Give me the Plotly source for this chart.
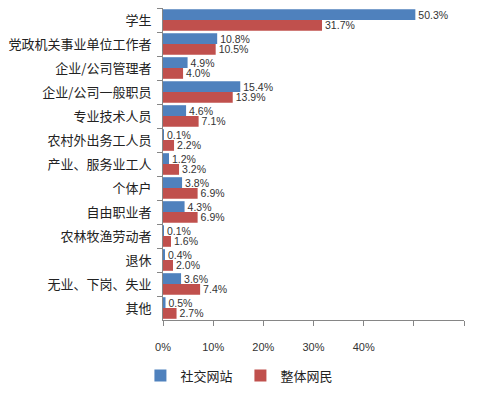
import plotly.graph_objects as go

categories = ["学生", "党政机关事业单位工作者", "企业/公司管理者", "企业/公司一般职员", "专业技术人员",
              "农村外出务工人员", "产业、服务业工人", "个体户", "自由职业者", "农林牧渔劳动者",
              "退休", "无业、下岗、失业", "其他"]
sns_values = [50.3, 10.8, 4.9, 15.4, 4.6, 0.1, 1.2, 3.8, 4.3, 0.1, 0.4, 3.6, 0.5]
all_values = [31.7, 10.5, 4.0, 13.9, 7.1, 2.2, 3.2, 6.9, 6.9, 1.6, 2.0, 7.4, 2.7]
series_names = ["社交网站", "整体网民"]
tick_vals = [0, 10, 20, 30, 40, 50, 60]
tick_text = ["0%", "10%", "20%", "30%", "40%", "", ""]

colors = ["#4F81BD", "#C0504D"]
fnt = "Noto Sans CJK SC, Liberation Sans, sans-serif"

fig = go.Figure()
for name, vals, c in zip(series_names, [sns_values, all_values], colors):
    fig.add_trace(go.Bar(
        y=categories, x=vals, name=name, orientation="h",
        marker=dict(color=c, line=dict(width=0)),
        text=[f"{v:.1f}%" for v in vals], textposition="outside",
        constraintext="none",
        textfont=dict(family="Liberation Sans, Arial, sans-serif", size=10.5, color="#333333"),
        cliponaxis=False,
    ))

fig.update_layout(
    width=484, height=398,
    margin=dict(l=160, r=20, t=8, b=70),
    paper_bgcolor="white", plot_bgcolor="white",
    barmode="group", bargap=0.1, bargroupgap=0,
    font=dict(family=fnt, size=13, color="#222222"),
    showlegend=True,
    legend=dict(orientation="h", x=-0.075, xanchor="left", y=-0.13, yanchor="top",
                font=dict(family=fnt, size=13, color="#222222"),
                itemwidth=30, entrywidth=55, traceorder="normal"),
    xaxis=dict(range=[0, 60], tickvals=tick_vals, ticktext=tick_text,
               showgrid=False, zeroline=False,
               showline=True, linecolor="#868686", linewidth=1,
               ticks="outside", ticklen=5, tickcolor="#868686", ticklabelstandoff=12,
               tickfont=dict(family="Liberation Sans, Arial, sans-serif", size=11, color="#333333")),
    yaxis=dict(autorange="reversed", showgrid=False, zeroline=False,
               showline=True, linecolor="#868686", linewidth=1,
               ticks="outside", ticklen=5, tickcolor="#868686", tickson="boundaries",
               ticklabelstandoff=8,
               tickfont=dict(family=fnt, size=13, color="#222222")),
)

fig.write_html("out.html")
